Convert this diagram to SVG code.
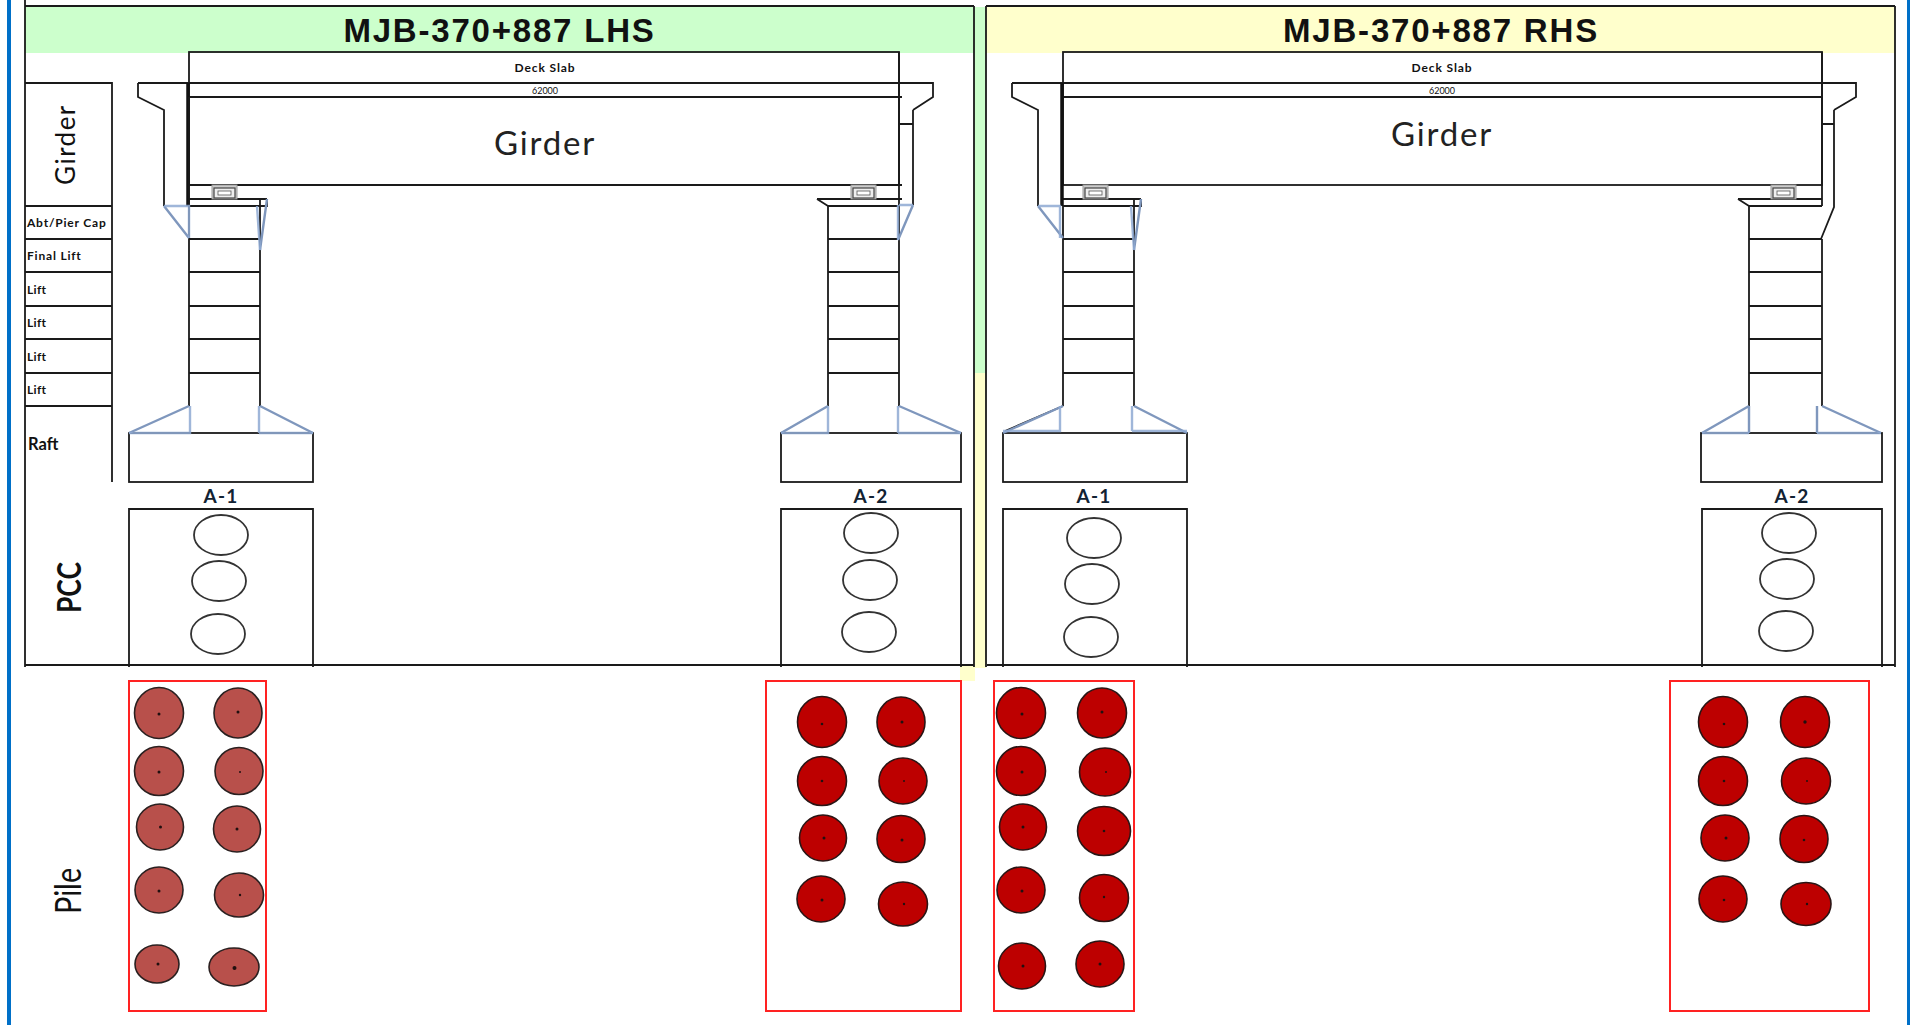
<svg xmlns="http://www.w3.org/2000/svg" width="1910" height="1025" viewBox="0 0 1910 1025">
<style>
text{font-family:"Lato","Open Sans","Liberation Sans",sans-serif;fill:#111}
.t{font-family:"Liberation Sans",Arial,sans-serif;font-weight:700;font-size:33px;letter-spacing:1.8px;text-anchor:middle}
.k{fill:none;stroke:#1a1a1a;stroke-width:1.8}
.b{fill:none;stroke:#8ea9d2;stroke-width:2.4;opacity:.85}
.s{fill:none;stroke:#7f97bd;stroke-width:2.4}
.r{fill:none;stroke:#f22;stroke-width:2}
.p{fill:#fff;stroke:#333;stroke-width:1.8}
.pa{fill:#b8504b;stroke:#2a2020;stroke-width:1.6}
.pb{fill:#bd0000;stroke:#2a1515;stroke-width:1.6}
.d{fill:#201010}
.lb{font-size:12px;font-weight:700;letter-spacing:.8px}
.lbl{font-size:12px;font-weight:700;letter-spacing:.9px;text-anchor:middle}
.tiny{font-size:9px;text-anchor:middle}
.g{font-size:33px;letter-spacing:1.8px;text-anchor:middle;fill:#222}
.pier{font-size:19px;font-weight:700;letter-spacing:1.2px;text-anchor:middle;fill:#123}
.brg{fill:#ccc;stroke:#999;stroke-width:1}
.brgi{fill:#eee;stroke:#444;stroke-width:1.2}
</style>
<defs>
<g id="lifts"><path class="k" d="M0 239H71M0 272H71M0 306H71M0 339H71M0 373H71"/></g>
<g id="bearing"><rect class="brg" x="0" y="185" width="25" height="14"/><rect class="brgi" x="2" y="188" width="21" height="10"/><rect x="6" y="191" width="13" height="4" fill="#fff" stroke="#555" stroke-width=".8"/></g>
</defs>
<rect width="1910" height="1025" fill="#fff"/>
<g id="frame">
<rect x="7" y="0" width="4" height="1025" fill="#0070c8"/>
<rect x="1907" y="0" width="3" height="1025" fill="#0070c8"/>
<rect x="25" y="7" width="949" height="46" fill="#ccffcc"/>
<rect x="986" y="7" width="909" height="46" fill="#ffffcc"/>
<rect x="974" y="7" width="12" height="366" fill="#ccffcc"/>
<rect x="974" y="373" width="12" height="295" fill="#ffffcc"/>
<rect x="960" y="666" width="15" height="15" fill="#ffffcc"/>
<path class="k" d="M25 0V667M25 6H974M974 6V667M986 6H1895M986 6V667M1895 6V667M25 665H974M987 665H1895"/>
</g>
<g id="label-table">
<path class="k" d="M25 83H112V482M25 206H112M25 239H112M25 272H112M25 306H112M25 339H112M25 373H112M25 406H112"/>
<text transform="translate(75 185) rotate(-90)" font-size="26" fill="#222" letter-spacing="1.5">Girder</text>
<text class="lb" x="27" y="227">Abt/Pier Cap</text>
<text class="lb" x="27" y="260">Final Lift</text>
<text class="lb" x="27" y="294" style="letter-spacing:.3px">Lift</text>
<text class="lb" x="27" y="327" style="letter-spacing:.3px">Lift</text>
<text class="lb" x="27" y="361" style="letter-spacing:.3px">Lift</text>
<text class="lb" x="27" y="394" style="letter-spacing:.3px">Lift</text>
<text x="28" y="450" font-size="16.5" font-weight="700">Raft</text>
<text transform="translate(81 613) rotate(-90) scale(.8 1)" font-size="33" font-weight="700" fill="#000">PCC</text>
<text transform="translate(81 914) rotate(-90) scale(.8 1)" font-size="36" fill="#222">Pile</text>
</g>
<g id="span-lhs">
<text class="t" x="499.500" y="42">MJB-370+887 LHS</text>
<rect class="k" x="189" y="52" width="710" height="133"/>
<path class="k" d="M138 83H933M189 97H902M189 185H902M189 199H267M817 199H902"/>
<path d="M188 83V206" stroke="#111" stroke-width="3.500" fill="none"/>
<text class="lbl" x="545" y="72">Deck Slab</text>
<text class="tiny" x="545" y="94">62000</text>
<text class="g" x="545" y="155">Girder</text>
</g>
<g id="span-rhs">
<text class="t" x="1441" y="42">MJB-370+887 RHS</text>
<rect class="k" x="1063" y="52" width="759" height="133"/>
<path class="k" d="M1012 83H1856M1063 97H1822M1063 199H1141M1738 199H1822"/>
<path d="M1062 83V206" stroke="#111" stroke-width="3.500" fill="none"/>
<text class="lbl" x="1442" y="72">Deck Slab</text>
<text class="tiny" x="1442" y="94">62000</text>
<text class="g" x="1442" y="146">Girder</text>
</g>
<g id="pier-lhs-a1">
<path class="k" d="M164 206V110L138 97V83M189 97V206H260M189 206V406M260 199V406M267 199V206H260"/>
<use href="#lifts" x="189"/>
<rect class="k" x="129" y="433" width="184" height="49"/>
<path class="s" d="M164 206L189 238M267 199L260 250M189 406L129 433M260 406L313 433"/>
<path class="b" d="M164 206H189V238M257 206L260 250M129 433H190V406M259 433H313M259 433V406"/>
<use href="#bearing" x="212"/>
<text class="pier" x="221" y="503">A-1</text>
</g>
<g id="pier-lhs-a2">
<path class="k" d="M828 206V406M899 52V406M828 206H899M817 199L828 206M913 110V205M899 83H933V97L913 110M899 124H913"/>
<use href="#lifts" x="828"/>
<rect class="k" x="781" y="433" width="180" height="49"/>
<path class="s" d="M913 205L898 240M828 406L781 433M899 406L961 433"/>
<path class="b" d="M899 205H913M898 205V240M781 433H828V406M898 433H961M898 433V406"/>
<use href="#bearing" x="851"/>
<text class="pier" x="871" y="503">A-2</text>
</g>
<g id="pier-rhs-a1">
<path class="k" d="M1038 206V110L1012 97V83M1063 206H1134M1063 206V406M1134 199V406M1141 199V206H1134M1063 406L1005 431"/>
<use href="#lifts" x="1063"/>
<rect class="k" x="1003" y="433" width="184" height="49"/>
<path class="s" d="M1038 206L1063 238M1141 199L1134 250M1063 406L1003 433M1134 406L1187 433"/>
<path class="b" d="M1038 206H1060V238M1131 206L1134 250M1003 431H1060V406M1132 431H1187M1132 431V406"/>
<use href="#bearing" x="1083"/>
<text class="pier" x="1094" y="503">A-1</text>
</g>
<g id="pier-rhs-a2">
<path class="k" d="M1749 206V406M1822 52V206M1822 239V406M1749 206H1822M1738 199L1749 206M1834 110V207L1821 239M1822 83H1856V97L1834 110M1822 124H1834M1749 239H1822M1749 272H1822M1749 306H1822M1749 339H1822M1749 373H1822"/>
<rect class="k" x="1701" y="433" width="181" height="49"/>
<path class="s" d="M1749 406L1702 433M1822 406L1881 433M1749 433V406M1817 433V406"/>
<path class="b" d="M1702 433H1749M1817 433H1881"/>
<use href="#bearing" x="1771"/>
<text class="pier" x="1792" y="503">A-2</text>
</g>
<g id="pcc-lhs-a1">
<path class="k" d="M129 667V509H313V667"/>
<ellipse class="p" cx="221" cy="535" rx="27" ry="20"/><ellipse class="p" cx="219" cy="581" rx="27" ry="20"/><ellipse class="p" cx="218" cy="634" rx="27" ry="20"/>
</g>
<g id="pcc-lhs-a2">
<path class="k" d="M781 667V509H961V667"/>
<ellipse class="p" cx="871" cy="533" rx="27" ry="20"/><ellipse class="p" cx="870" cy="580" rx="27" ry="20"/><ellipse class="p" cx="869" cy="632" rx="27" ry="20"/>
</g>
<g id="pcc-rhs-a1">
<path class="k" d="M1003 667V509H1187V667"/>
<ellipse class="p" cx="1094" cy="538" rx="27" ry="20"/><ellipse class="p" cx="1092" cy="584" rx="27" ry="20"/><ellipse class="p" cx="1091" cy="637" rx="27" ry="20"/>
</g>
<g id="pcc-rhs-a2">
<path class="k" d="M1702 667V509H1882V667"/>
<ellipse class="p" cx="1789" cy="533" rx="27" ry="20"/><ellipse class="p" cx="1787" cy="579" rx="27" ry="20"/><ellipse class="p" cx="1786" cy="631" rx="27" ry="20"/>
</g>
<g id="piles-lhs-a1">
<rect class="r" x="129" y="681" width="137" height="330"/>
<g class="pa">
<ellipse cx="159" cy="713" rx="24.500" ry="25.500"/><ellipse cx="238" cy="713" rx="24" ry="25"/>
<ellipse cx="159" cy="771" rx="24.500" ry="24.500"/><ellipse cx="239" cy="771" rx="24" ry="23.500"/>
<ellipse cx="160" cy="827" rx="23.500" ry="23"/><ellipse cx="237" cy="829" rx="23.500" ry="23"/>
<ellipse cx="159" cy="890" rx="24" ry="23"/><ellipse cx="239" cy="895" rx="24.500" ry="22"/>
<ellipse cx="157" cy="964" rx="22" ry="19"/><ellipse cx="234" cy="967" rx="25" ry="19"/>
</g>
<g class="d">
<circle cx="159" cy="714" r="1.500"/><circle cx="238" cy="712" r="1.500"/><circle cx="159" cy="772" r="1.500"/><circle cx="240" cy="772" r="1"/><circle cx="160.500" cy="827" r="1.500"/><circle cx="237" cy="829" r="1.500"/><circle cx="159" cy="891" r="1.500"/><circle cx="240" cy="895" r="1.200"/><circle cx="158" cy="964" r="1.500"/><circle cx="234.500" cy="968" r="2"/>
</g>
</g>
<g id="piles-lhs-a2">
<rect class="r" x="766" y="681" width="195" height="330"/>
<g class="pb">
<ellipse cx="822" cy="722" rx="24.500" ry="25.500"/><ellipse cx="901" cy="722" rx="24" ry="25"/>
<ellipse cx="822" cy="781" rx="24.500" ry="24.500"/><ellipse cx="903" cy="781" rx="24" ry="23"/>
<ellipse cx="823" cy="838" rx="23.500" ry="23"/><ellipse cx="901" cy="839" rx="24" ry="23.500"/>
<ellipse cx="821" cy="899" rx="24" ry="23"/><ellipse cx="903" cy="904" rx="24.500" ry="22"/>
</g>
<g class="d">
<circle cx="822" cy="724" r="1.300"/><circle cx="902" cy="722" r="1.500"/><circle cx="822" cy="781" r="1.300"/><circle cx="904" cy="781" r="1"/><circle cx="824" cy="838" r="1.500"/><circle cx="902" cy="840" r="1.500"/><circle cx="822" cy="900" r="1.500"/><circle cx="904" cy="904" r="1.200"/>
</g>
</g>
<g id="piles-rhs-a1">
<rect class="r" x="994" y="681" width="140" height="330"/>
<g class="pb">
<ellipse cx="1021" cy="713" rx="24.500" ry="25.500"/><ellipse cx="1102" cy="713" rx="24.500" ry="25"/>
<ellipse cx="1021" cy="771" rx="24.500" ry="24.500"/><ellipse cx="1105" cy="772" rx="25.500" ry="24"/>
<ellipse cx="1023" cy="827" rx="23.500" ry="23"/><ellipse cx="1104" cy="831" rx="26.500" ry="24.500"/>
<ellipse cx="1021" cy="890" rx="24" ry="23"/><ellipse cx="1104" cy="898" rx="24.500" ry="23.500"/>
<ellipse cx="1022" cy="966" rx="23.500" ry="23"/><ellipse cx="1100" cy="964" rx="24" ry="23"/>
</g>
<g class="d">
<circle cx="1022" cy="714" r="1.500"/><circle cx="1102" cy="712" r="1.500"/><circle cx="1022" cy="772" r="1.500"/><circle cx="1106" cy="772" r="1"/><circle cx="1023" cy="827" r="1.500"/><circle cx="1104" cy="831" r="1.300"/><circle cx="1022" cy="891" r="1.500"/><circle cx="1104" cy="897" r="1.200"/><circle cx="1023" cy="966" r="1.500"/><circle cx="1100" cy="964" r="1.500"/>
</g>
</g>
<g id="piles-rhs-a2">
<rect class="r" x="1670" y="681" width="199" height="330"/>
<g class="pb">
<ellipse cx="1723" cy="722" rx="24.500" ry="25.500"/><ellipse cx="1805" cy="722" rx="24.500" ry="25.500"/>
<ellipse cx="1723" cy="781" rx="24.500" ry="24.500"/><ellipse cx="1806" cy="781" rx="24.500" ry="23"/>
<ellipse cx="1725" cy="838" rx="24" ry="23"/><ellipse cx="1804" cy="839" rx="24" ry="23.500"/>
<ellipse cx="1723" cy="899" rx="24" ry="23"/><ellipse cx="1806" cy="904" rx="25" ry="21.500"/>
</g>
<g class="d">
<circle cx="1724" cy="724" r="1.300"/><circle cx="1805" cy="722" r="1.700"/><circle cx="1724" cy="781" r="1.300"/><circle cx="1807" cy="781" r="1"/><circle cx="1726" cy="838" r="1.500"/><circle cx="1804" cy="840" r="1.300"/><circle cx="1724" cy="900" r="1.300"/><circle cx="1807" cy="904" r="1.200"/>
</g>
</g>
</svg>
